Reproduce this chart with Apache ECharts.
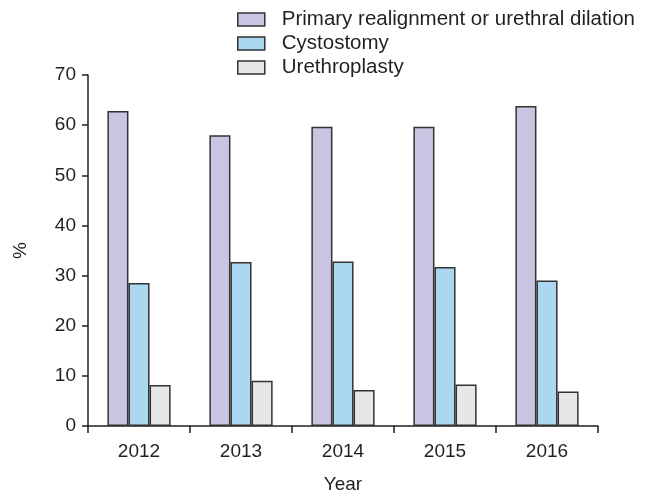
<!DOCTYPE html>
<html><head><meta charset="utf-8">
<script src="https://cdn.jsdelivr.net/npm/echarts@6/dist/echarts.min.js"></script>
<style>html,body{margin:0;padding:0;background:#fff}#c{width:653px;height:493px}</style>
</head><body><div id="c"></div>
<script>
const years = ['2012','2013','2014','2015','2016'];
const primary = [62.8, 58.0, 59.7, 59.7, 63.8];
const cystostomy = [28.5, 32.7, 32.8, 31.7, 29.0];
const urethroplasty = [8.2, 9.0, 7.2, 8.3, 6.9];
const seriesNames = ['Primary realignment or urethral dilation','Cystostomy','Urethroplasty'];
const colors = ['#c8c4e1','#acd7f1','#e6e7e8'];
const FONT = 'Liberation Sans, Arial, sans-serif';
const ink = '#231f20';
const chart = echarts.init(document.getElementById('c'), null, {renderer:'canvas'});
const mk = (name, data, i) => ({
  name, type:'bar', data, barGap:'0%', barCategoryGap:'38%',
  itemStyle:{color:colors[i], borderColor:'#333333', borderWidth:1.5},
  emphasis:{disabled:true}
});
chart.setOption({
  animation:false,
  textStyle:{fontFamily:FONT},
  legend:{
    orient:'vertical', left:237, top:9, padding:0, itemWidth:27, itemHeight:13, itemGap:3,
    icon:'rect',
    textStyle:{fontSize:20.5, color:ink, fontFamily:FONT, padding:[0,0,0,12]},
    itemStyle:{borderColor:'#333333', borderWidth:1.5},
    data:seriesNames
  },
  grid:{left:88, right:55, top:75, bottom:67, containLabel:false, outerBoundsMode:'none'},
  xAxis:{
    type:'category', data:years, name:'Year', nameLocation:'middle', nameGap:49,
    nameTextStyle:{fontSize:19, color:ink, fontFamily:FONT},
    axisLine:{lineStyle:{color:ink, width:1.5}},
    axisTick:{show:true, length:7, lineStyle:{color:ink, width:1.5}, alignWithLabel:false},
    axisLabel:{fontSize:19, color:ink, margin:16, fontFamily:FONT}
  },
  yAxis:{
    type:'value', min:0, max:70, interval:10, name:'%', nameLocation:'middle', nameGap:58,
    nameTextStyle:{fontSize:19, color:ink, fontFamily:FONT},
    axisLine:{show:true, lineStyle:{color:ink, width:1.5}},
    axisTick:{show:true, length:6, lineStyle:{color:ink, width:1.5}},
    axisLabel:{fontSize:19, color:ink, margin:12, fontFamily:FONT},
    splitLine:{show:false}
  },
  series:[mk(seriesNames[0], primary, 0), mk(seriesNames[1], cystostomy, 1), mk(seriesNames[2], urethroplasty, 2)]
});
</script></body></html>
